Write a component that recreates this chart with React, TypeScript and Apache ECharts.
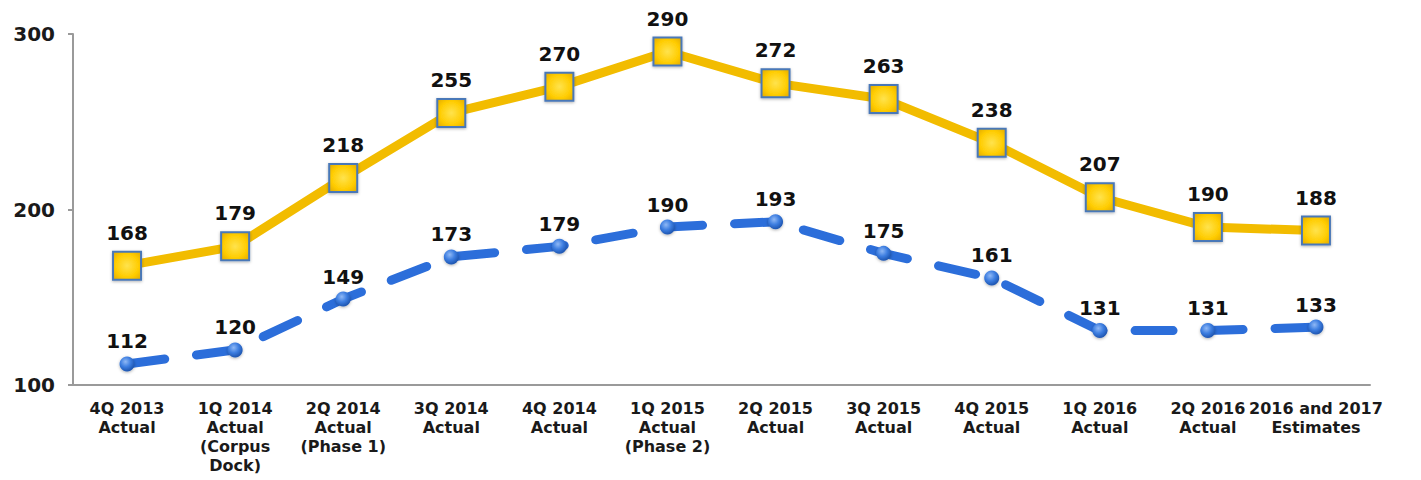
import React, { useEffect, useRef } from "react";
import * as echarts from "echarts";

const categories = [
  "4Q 2013\nActual",
  "1Q 2014\nActual\n(Corpus\nDock)",
  "2Q 2014\nActual\n(Phase 1)",
  "3Q 2014\nActual",
  "4Q 2014\nActual",
  "1Q 2015\nActual\n(Phase 2)",
  "2Q 2015\nActual",
  "3Q 2015\nActual",
  "4Q 2015\nActual",
  "1Q 2016\nActual",
  "2Q 2016\nActual",
  "2016 and 2017\nEstimates",
];
const goldSeries = [168, 179, 218, 255, 270, 290, 272, 263, 238, 207, 190, 188];
const blueSeries = [112, 120, 149, 173, 179, 190, 193, 175, 161, 131, 131, 133];
const yTicks = [100, 200, 300];

const FONT = "'DejaVu Sans', Verdana, sans-serif";

export default function App() {
  const ref = useRef<HTMLDivElement>(null);
  useEffect(() => {
    if (!ref.current) return;
    const chart = echarts.init(ref.current, undefined, { renderer: "svg" });
    chart.setOption({
      animation: false,
      backgroundColor: "#ffffff",
      grid: { left: 65, right: 43, top: 26, bottom: 95, containLabel: false },
      xAxis: {
        type: "category",
        data: categories,
        boundaryGap: true,
        axisLine: { show: true, lineStyle: { color: "#9a9a9a", width: 2 } },
        axisTick: { show: false },
        axisLabel: {
          interval: 0,
          color: "#1a1a1a",
          fontFamily: FONT,
          fontWeight: "bold",
          fontSize: 16,
          lineHeight: 19,
          margin: 14,
        },
      },
      yAxis: {
        type: "value",
        min: yTicks[0],
        max: yTicks[yTicks.length - 1],
        interval: 100,
        splitLine: { show: false },
        axisLine: { show: true, lineStyle: { color: "#9a9a9a", width: 2 } },
        axisTick: { show: true, length: 5, lineStyle: { color: "#9a9a9a", width: 2 } },
        axisLabel: {
          color: "#1a1a1a",
          fontFamily: FONT,
          fontWeight: "bold",
          fontSize: 20,
          margin: 18,
        },
      },
      series: [
        {
          type: "line",
          data: goldSeries,
          z: 3,
          lineStyle: { color: "#F2BC00", width: 9 },
          symbol: "rect",
          symbolSize: 28,
          itemStyle: {
            color: new echarts.graphic.RadialGradient(0.5, 0.5, 0.7, [
              { offset: 0, color: "#FFE34D" },
              { offset: 0.6, color: "#FFCC00" },
              { offset: 1, color: "#E0A800" },
            ]),
            borderColor: "#4A78B8",
            borderWidth: 2,
            shadowColor: "rgba(0,0,0,0.3)",
            shadowBlur: 3,
            shadowOffsetY: 1,
          },
          label: {
            show: true,
            position: "top",
            distance: 8,
            color: "#111",
            fontFamily: FONT,
            fontWeight: "bold",
            fontSize: 20,
          },
        },
        {
          type: "line",
          data: blueSeries,
          z: 2,
          lineStyle: { color: "#2C6EDA", width: 9, type: [38, 32], cap: "round" },
          symbol: "circle",
          symbolSize: 15,
          itemStyle: {
            color: new echarts.graphic.RadialGradient(0.4, 0.35, 0.7, [
              { offset: 0, color: "#8FB8F5" },
              { offset: 0.5, color: "#3C7DE0" },
              { offset: 1, color: "#1A4FA8" },
            ]),
            borderWidth: 0,
            shadowColor: "rgba(0,0,0,0.3)",
            shadowBlur: 3,
            shadowOffsetY: 1,
          },
          label: {
            show: true,
            position: "top",
            distance: 5,
            color: "#111",
            fontFamily: FONT,
            fontWeight: "bold",
            fontSize: 20,
          },
        },
      ],
    });
    return () => chart.dispose();
  }, []);
  return <div ref={ref} style={{ width: 1405, height: 472 }} />;
}
